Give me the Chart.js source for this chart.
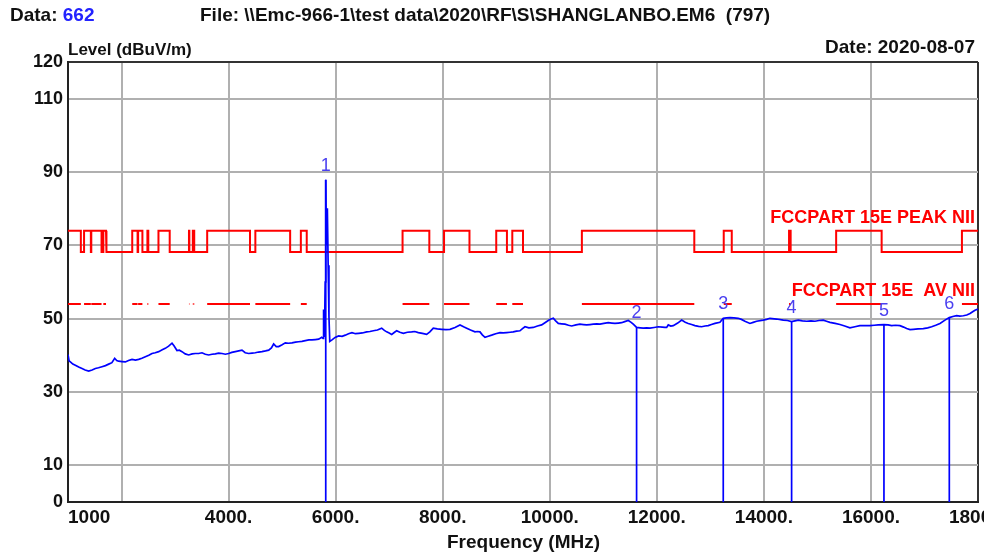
<!DOCTYPE html>
<html>
<head>
<meta charset="utf-8">
<script src="https://cdn.jsdelivr.net/npm/chart.js@4.4.0/dist/chart.umd.min.js"></script>
<style>
body { margin: 0; background: #fff; }
#wrap { position: relative; width: 984px; height: 556px; font-family: "Liberation Sans", Arial, sans-serif; font-weight: bold; font-size: 19px; color: #111; }
#wrap canvas { position: absolute; left: 0; top: 0; }
.lbl { position: absolute; white-space: pre; line-height: 1; }
</style>
</head>
<body>
<div id="wrap">
  <canvas id="emc" width="984" height="556"></canvas>
  <div class="lbl" style="left:10px; top:5px;">Data: <span style="color:#2323ff">662</span></div>
  <div class="lbl" style="left:200px; top:5px;">File: \\Emc-966-1\test data\2020\RF\S\SHANGLANBO.EM6  (797)</div>
  <div class="lbl" style="right:9px; top:37px;">Date: 2020-08-07</div>
  <div class="lbl" style="left:68px; top:41px; font-size:17px;">Level (dBuV/m)</div>
  <div class="lbl" style="left:447px; top:532px;">Frequency (MHz)</div>
</div>
<script>
// axis ticks
const xTicks = [1000, 2000, 4000, 6000, 8000, 10000, 12000, 14000, 16000, 18000];
const xTickLabels = ['1000', '', '4000.', '6000.', '8000.', '10000.', '12000.', '14000.', '16000.', '18000.'];
const yTicks = [0, 10, 30, 50, 70, 90, 110, 120];

// limit lines (dBuV/m) and restricted bands (MHz)
const peakHigh = 74;
const peakLow = 68.2;
const avLimit = 54;
const bandStart = [1000, 1300, 1435, 1645.5, 1660, 1718.8, 2200, 2310, 2483.5, 2690, 3260, 3332, 3345.8, 3600, 4500, 5350, 7250, 8025, 9000, 9300, 10600, 13250, 14470, 15350, 17700];
const bandEnd = [1240, 1427, 1626.5, 1646.5, 1710, 1722.2, 2300, 2390, 2500, 2900, 3267, 3339, 3358, 4400, 5150, 5460, 7750, 8500, 9200, 9500, 12700, 13400, 14500, 16200, 18000];

// measured trace
const freq = [1000, 1020, 1044, 1090, 1137, 1200, 1262, 1320, 1386, 1450, 1511, 1570, 1635, 1700, 1760, 1820, 1872, 1910, 1946, 2010,
  2071, 2130, 2196, 2260, 2320, 2380, 2445, 2510, 2569, 2630, 2694, 2760, 2818, 2880, 2943, 2980, 3036, 3080, 3130, 3190,
  3254, 3320, 3379, 3440, 3503, 3565, 3628, 3690, 3752, 3815, 3877, 3940, 4001, 4060, 4126, 4190, 4250, 4310, 4375, 4440,
  4499, 4560, 4624, 4690, 4749, 4800, 4842, 4890, 4935, 5000, 5060, 5120, 5184, 5250, 5309, 5370, 5433, 5500, 5558, 5620,
  5683, 5740, 5765, 5775, 5790, 5805, 5815, 5828, 5845, 5860, 5875, 5890, 5932, 5990, 6056, 6120, 6180, 6240, 6305, 6370,
  6430, 6500, 6580, 6640, 6704, 6780, 6860, 6910, 6953, 7000, 7047, 7100, 7140, 7200, 7264, 7340, 7420, 7480, 7544, 7620,
  7700, 7760, 7824, 7900, 7981, 8060, 8136, 8230, 8323, 8390, 8448, 8520, 8603, 8650, 8696, 8740, 8790, 8850, 8914, 8990,
  9070, 9130, 9194, 9260, 9318, 9380, 9443, 9490, 9537, 9610, 9692, 9770, 9848, 9910, 9972, 10020, 10066, 10110, 10159, 10220,
  10284, 10350, 10409, 10490, 10564, 10630, 10689, 10750, 10813, 10880, 10938, 11010, 11093, 11160, 11218, 11280, 11342, 11400, 11467, 11520,
  11560, 11622, 11690, 11747, 11810, 11872, 11950, 12027, 12100, 12152, 12184, 12214, 12260, 12307, 12390, 12464, 12530, 12587, 12650, 12712,
  12780, 12837, 12900, 12961, 13020, 13086, 13179, 13241, 13300, 13366, 13440, 13521, 13580, 13646, 13739, 13800, 13864, 13988, 14050, 14113,
  14238, 14362, 14440, 14518, 14580, 14642, 14720, 14798, 14880, 14954, 15030, 15109, 15170, 15234, 15330, 15421, 15510, 15608, 15700, 15794,
  15890, 15981, 16060, 16137, 16243, 16320, 16386, 16460, 16542, 16610, 16667, 16730, 16791, 16880, 16978, 17060, 17134, 17210, 17290, 17383,
  17464, 17530, 17601, 17660, 17726, 17790, 17851, 17900, 17944, 18000];
const level = [40.2, 38.5, 38.2, 37.6, 37.3, 36.8, 36.4, 36.0, 35.7, 36.0, 36.4, 36.6, 36.9, 37.2, 37.6, 38.0, 39.2, 38.6, 38.4, 38.3,
  38.2, 38.6, 38.9, 38.7, 38.9, 39.2, 39.6, 40.0, 40.5, 40.7, 41.0, 41.5, 41.9, 42.5, 43.3, 42.6, 41.3, 41.4, 41.0, 40.4,
  40.1, 40.4, 40.5, 40.5, 40.7, 40.3, 40.1, 40.3, 40.4, 40.6, 40.5, 40.3, 40.5, 40.8, 41.0, 41.2, 41.4, 40.7, 40.5, 40.6,
  40.7, 40.9, 41.0, 41.2, 41.4, 42.0, 43.1, 42.4, 42.4, 42.9, 43.4, 43.3, 43.4, 43.6, 43.7, 43.8, 44.0, 44.2, 44.2, 44.3,
  44.4, 44.9, 44.6, 52.5, 45.0, 60.0, 87.9, 70.0, 80.1, 64.6, 50.5, 43.8, 44.2, 44.9, 45.3, 45.2, 45.5, 45.9, 46.2, 45.9,
  46.0, 46.1, 46.4, 46.5, 46.7, 46.9, 47.4, 46.8, 46.4, 46.1, 45.7, 46.3, 46.7, 46.3, 46.0, 46.3, 46.4, 46.5, 46.2, 46.0,
  45.7, 46.4, 47.4, 47.2, 47.1, 47.0, 47.1, 47.6, 48.3, 47.8, 47.4, 46.9, 46.4, 46.5, 46.4, 45.6, 44.9, 45.2, 45.5, 45.9,
  46.2, 46.1, 46.2, 46.3, 46.4, 46.6, 46.7, 47.3, 47.8, 47.5, 47.6, 48.0, 48.3, 48.9, 49.5, 49.9, 50.1, 49.4, 48.7, 48.6,
  48.5, 48.2, 48.0, 48.3, 48.5, 48.4, 48.3, 48.4, 48.5, 48.6, 48.5, 48.7, 48.9, 48.8, 48.7, 48.8, 48.9, 49.2, 49.5, 49.0,
  48.5, 47.6, 47.5, 47.4, 47.5, 47.4, 47.6, 47.8, 47.7, 47.6, 47.6, 48.3, 48.0, 48.1, 48.8, 49.6, 49.0, 48.7, 48.4, 48.1,
  47.9, 47.8, 48.0, 48.1, 48.4, 48.7, 49.0, 50.1, 50.2, 50.3, 50.2, 50.1, 49.8, 49.3, 48.7, 49.0, 49.3, 49.6, 49.8, 50.1,
  49.9, 49.6, 49.5, 49.2, 49.4, 49.6, 49.4, 49.3, 49.4, 49.3, 49.5, 49.6, 49.3, 49.0, 48.7, 48.4, 48.0, 47.5, 47.8, 48.1,
  48.1, 48.1, 48.2, 48.3, 48.4, 48.3, 48.1, 48.2, 48.1, 47.7, 47.3, 47.0, 47.1, 47.2, 47.3, 47.5, 47.8, 48.2, 48.7, 49.6,
  50.3, 50.6, 50.8, 50.7, 50.8, 51.0, 51.4, 51.9, 52.3, 52.6];

// markers 1..6
const markerFreq = [5815, 11622, 13241, 14518, 16243, 17464];
const markerLevel = [87.9, 47.6, 50.1, 49.2, 48.4, 50.3];

const limitNames = ['FCCPART 15E PEAK NII', 'FCCPART 15E  AV NII'];

const FONT = '"Liberation Sans", Arial, sans-serif';

// build line data
const trace = freq.map((f, i) => ({ x: f, y: level[i] }));

const peakPts = [];
bandStart.forEach((s, i) => {
  const e = bandEnd[i];
  if (s > 1000) peakPts.push({ x: s, y: peakLow });
  peakPts.push({ x: s, y: peakHigh }, { x: e, y: peakHigh });
  if (e < 18000) peakPts.push({ x: e, y: peakLow });
});

const avPts = [];
bandStart.forEach((s, i) => {
  avPts.push({ x: s, y: avLimit }, { x: bandEnd[i], y: avLimit }, { x: bandEnd[i], y: null });
});

const markerPts = [];
markerFreq.forEach((f, i) => {
  markerPts.push({ x: f, y: 0 }, { x: f, y: markerLevel[i] }, { x: f, y: null });
});

// texts drawn at data positions
const overlayText = {
  id: 'overlayText',
  afterDatasetsDraw(chart) {
    const { ctx, scales: { x, y } } = chart;
    ctx.save();
    ctx.textBaseline = 'middle';

    // marker numbers
    ctx.font = '18px ' + FONT;
    ctx.fillStyle = '#4a3ff0';
    ctx.textAlign = 'center';
    markerFreq.forEach((f, i) => {
      ctx.fillText(String(i + 1), x.getPixelForValue(f), y.getPixelForValue(markerLevel[i]) - 14);
    });

    // limit names
    ctx.font = 'bold 18px ' + FONT;
    ctx.fillStyle = '#ff0000';
    ctx.textAlign = 'right';
    ctx.fillText(limitNames[0], chart.chartArea.right - 3, y.getPixelForValue(peakHigh) - 13);
    ctx.fillText(limitNames[1], chart.chartArea.right - 3, y.getPixelForValue(avLimit) - 13);

    // x tick labels
    ctx.font = 'bold 19px ' + FONT;
    ctx.fillStyle = '#111';
    xTicks.forEach((v, i) => {
      ctx.textAlign = i === 0 ? 'left' : 'center';
      ctx.fillText(xTickLabels[i], x.getPixelForValue(v), chart.chartArea.bottom + 16);
    });
    ctx.restore();
  }
};

new Chart(document.getElementById('emc'), {
  type: 'line',
  data: {
    datasets: [
      { data: trace, borderColor: '#0000ff', borderWidth: 1.7 },
      { data: markerPts, borderColor: '#0000ff', borderWidth: 1.7 },
      { data: peakPts, borderColor: '#ff0000', borderWidth: 2 },
      { data: avPts, borderColor: '#ff0000', borderWidth: 2 }
    ]
  },
  options: {
    responsive: false,
    animation: false,
    devicePixelRatio: 1,
    layout: { padding: { top: 62, right: 6, left: 0, bottom: 0 } },
    elements: { point: { radius: 0 }, line: { tension: 0 } },
    plugins: { legend: { display: false }, tooltip: { enabled: false } },
    scales: {
      x: {
        type: 'linear', min: 1000, max: 18000,
        afterBuildTicks: s => { s.ticks = xTicks.map(v => ({ value: v })); },
        afterFit: s => { s.height = 54; },
        ticks: { display: false },
        grid: {
          lineWidth: 2, drawTicks: false,
          color: c => c.tick.value === 18000 ? '#333' : c.tick.value === 1000 ? 'rgba(0,0,0,0)' : '#b0b0b0'
        },
        border: { color: '#222', width: 2 }
      },
      y: {
        type: 'linear', min: 0, max: 120,
        afterBuildTicks: s => { s.ticks = yTicks.map(v => ({ value: v })); },
        afterFit: s => { s.width = 68; },
        ticks: { color: '#111', padding: 5, font: { family: FONT, size: 18, weight: 'bold' } },
        grid: {
          lineWidth: 2, drawTicks: false,
          color: c => c.tick.value === 120 ? '#333' : c.tick.value === 0 ? 'rgba(0,0,0,0)' : '#b0b0b0'
        },
        border: { color: '#222', width: 2 }
      }
    }
  },
  plugins: [overlayText]
});
</script>
</body>
</html>
